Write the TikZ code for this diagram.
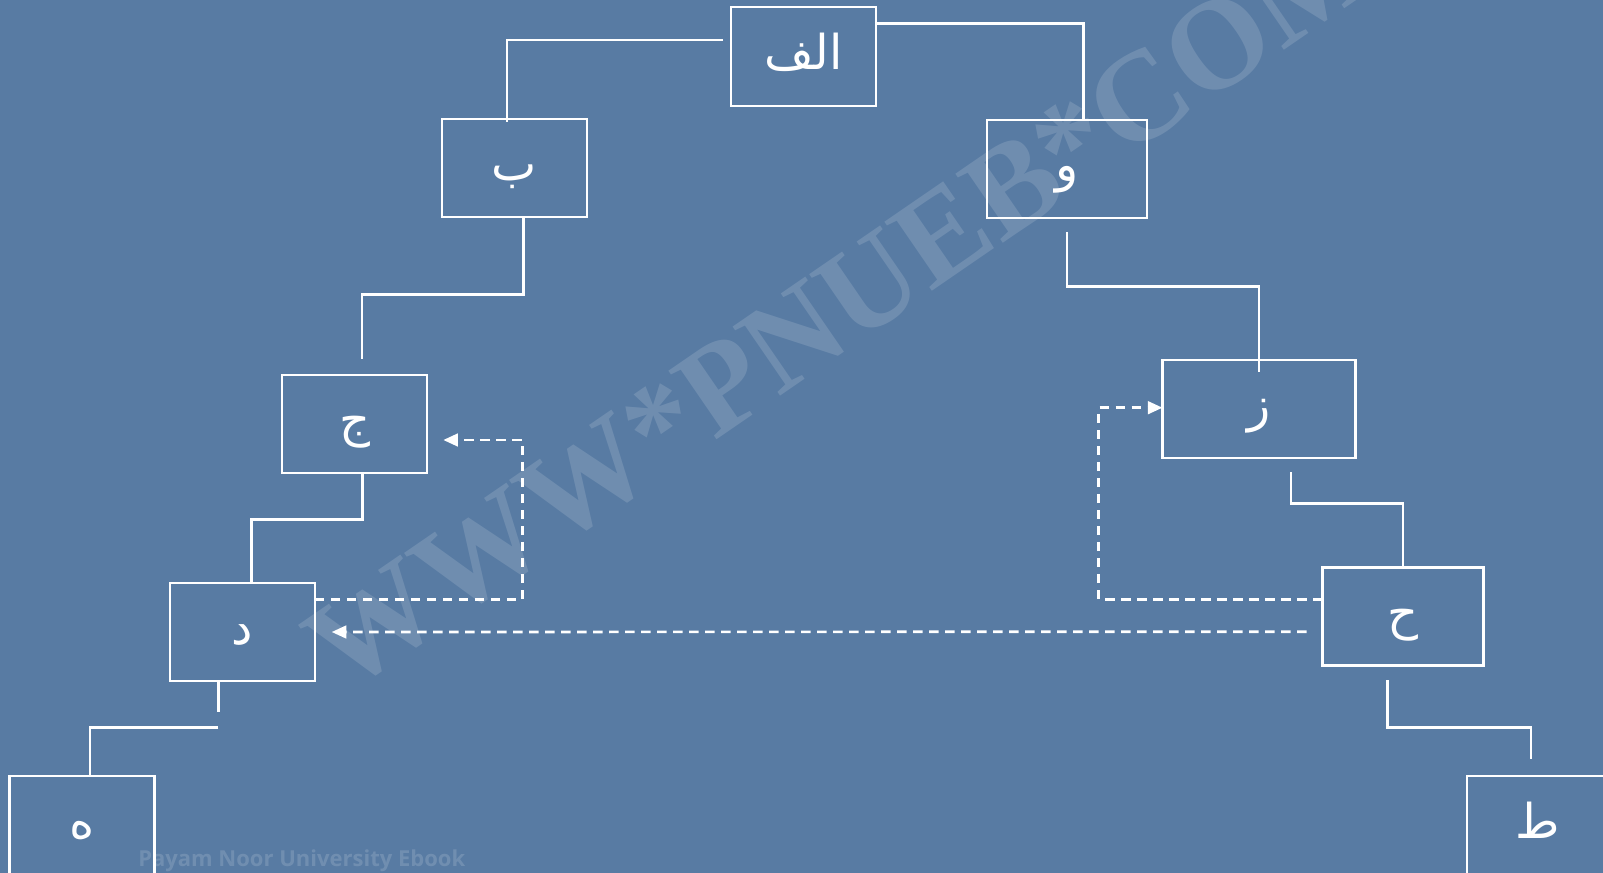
\documentclass[tikz,border=0pt]{standalone}
\usepackage{fontspec}
\usetikzlibrary{calc,arrows.meta}
\TeXXeTstate=1
\newfontfamily\arabicfont[Script=Arabic]{DejaVu Sans}
\newfontfamily\wmfont{Liberation Serif}
\newfontfamily\wmsans{Open Sans}
\definecolor{bgblue}{RGB}{88,123,163}
\tikzset{
  box/.style={draw=white, line width=2pt, inner sep=0pt, outer sep=0pt,
    text height=0pt, text depth=0pt,
    text=white, font=\arabicfont\fontsize{36}{40}\selectfont},
  link/.style={draw=white, line width=2pt},
  dlink/.style={draw=white, line width=2pt, dash pattern=on 7pt off 5pt,
    -{Triangle[length=11pt,width=9.5pt]}},
}
\newcommand{\ar}[1]{\raisebox{-9.5pt}{\beginR #1\endR}}
\begin{document}
\begin{tikzpicture}[x=0.75pt,y=-0.75pt]
\useasboundingbox (0,0) rectangle (1603,873);
\clip (0,0) rectangle (1603,873);
\fill[bgblue] (0,0) rectangle (1603,873);
% watermarks
\node[text=white, opacity=0.14, rotate=34.5, font=\wmfont\bfseries\fontsize{96}{96}\selectfont] (wm) at (840,305) {WWW*PNUEB*COM};
\node[text=white, opacity=0.15, font=\wmsans\bfseries\fontsize{16.5}{18}\selectfont, anchor=base west, inner sep=0pt] (wm2) at (138,866.7) {Payam Noor University Ebook};
% boxes
\node[box, minimum width=108.75pt, minimum height=74.25pt] (alef) at (803.5,56.5) {\ar{الف}};
\node[box, minimum width=108.75pt, minimum height=73.5pt] (beh) at (514.5,168) {\ar{ب}};
\node[box, minimum width=120pt, minimum height=73.5pt] (waw) at (1067,169) {\ar{و}};
\node[box, minimum width=108.75pt, minimum height=73.5pt] (jim) at (354.5,424) {\ar{ج}};
\node[box, minimum width=144.75pt, minimum height=73.5pt] (zay) at (1259,409) {\ar{ز}};
\node[box, minimum width=120.75pt, minimum height=73.5pt] (hah) at (1403,616.5) {\ar{ح}};
\node[box, minimum width=108.75pt, minimum height=73.5pt] (dal) at (242.5,632) {\ar{د}};
\node[box, minimum width=108.75pt, minimum height=74.25pt] (heh) at (82,825.5) {\ar{ه}};
\node[box, minimum width=106.5pt, minimum height=74.25pt] (tah) at (1538,825.5) {\ar{ط}};
% solid connectors
\draw[link] ($(alef.west)+(-8,-16.6)$) -| ($(beh.north)+(-7.5,3)$);
\draw[link] ($(alef.east)+(0,-33.2)$) -| ($(waw.north)+(16.3,0)$);
\draw[link] ($(beh.south)+(8.8,0)$) -- ++(0,77.4) -| ($(jim.north)+(7.4,-16.2)$);
\draw[link] ($(waw.south)+(0,14)$) -- ++(0,54.2) -| ($(zay.north)+(0,12)$);
\draw[link] ($(zay.south)+(32,14)$) -- ++(0,31.6) -| (hah.north);
\draw[link] ($(jim.south)+(7.8,0)$) -- ++(0,46.3) -| ($(dal.north)+(9.2,0)$);
\draw[link] ($(dal.south)+(-24.2,0)$) -- ++(0,30.7);
\draw[link] ($(dal.south)+(-24.2,46.3)$) -| ($(heh.north)+(8,0)$);
\draw[link] ($(hah.south)+(-15.3,14.5)$) -- ++(0,47.7) -| ($(tah.north)+(-7,-16.7)$);
% dashed connectors
\draw[dlink] ($(dal.east)+(0,-32.7)$) -- ++(207.7,0) |- ($(jim.east)+(16.3,16)$);
\draw[dlink] ($(hah.west)+(0,-17.2)$) -- ++(-223.7,0) |- ($(zay.west)+(0,-1.3)$);
\draw[dlink] ($(hah.west)+(-16,15.2)$) -- ($(dal.east)+(16.7,0)$);
\end{tikzpicture}
\end{document}
